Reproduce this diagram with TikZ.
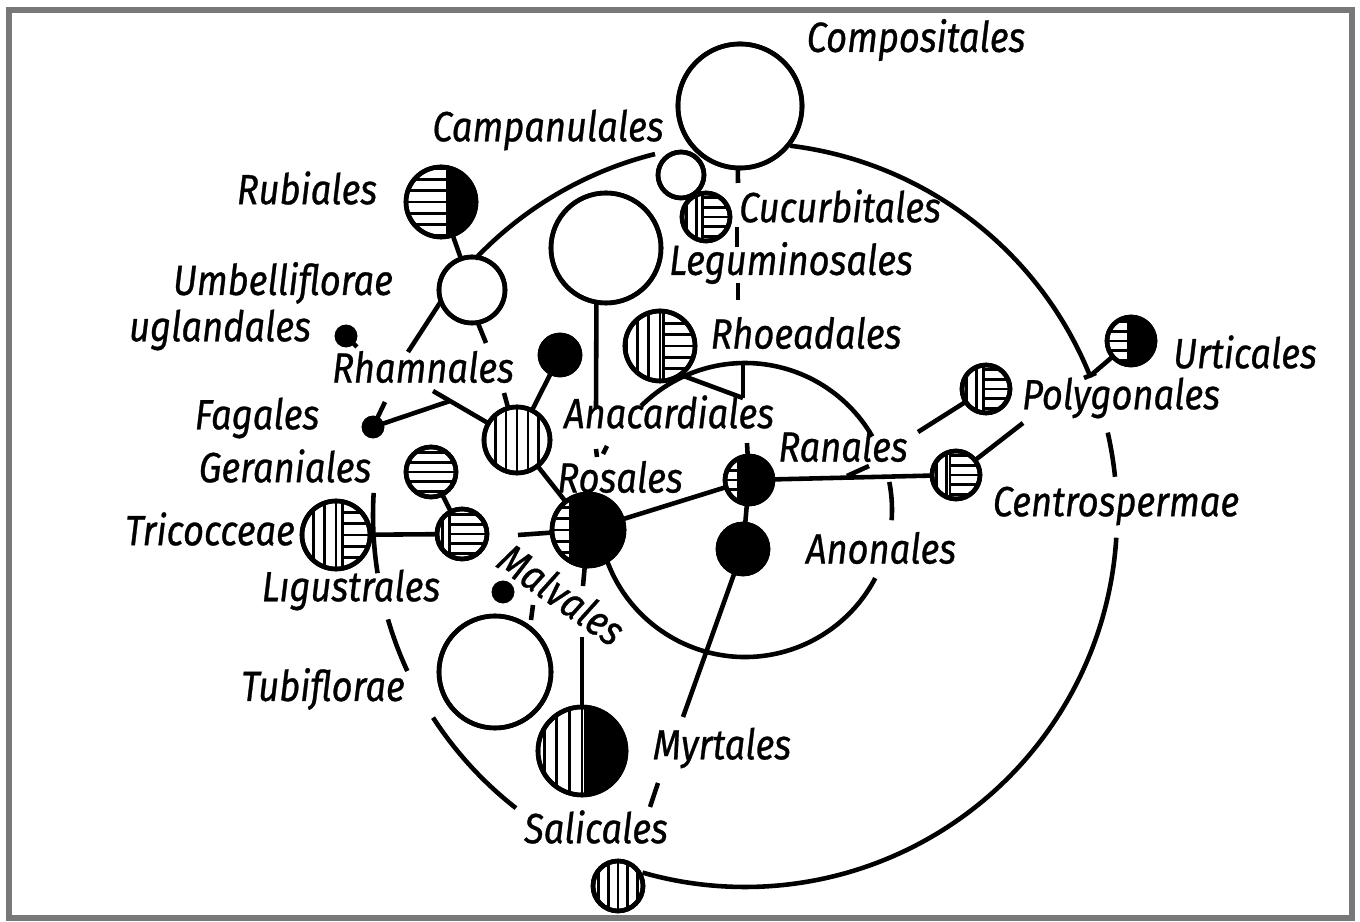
\documentclass[tikz,border=0pt]{standalone}
\usepackage{fontspec}
\setmainfont{Fira Sans}
\newfontfamily\ordfont{Fira Sans}[FakeStretch=0.86, FakeBold=0.7]
\usetikzlibrary{positioning}
\definecolor{rahmen}{rgb}{0.47,0.47,0.47}

\tikzset{
  disc/.style={circle, draw, fill=white, line width=1.3pt, inner sep=0pt, outer sep=0pt},
  lbl/.style={font=\ordfont\fontsize{12}{13}\selectfont\itshape, inner sep=0pt},
  hatch/.style={line width=0.8pt},
  link/.style={line width=1.3pt},
}

\newcommand{\partv}[3]{\foreach \k in {-8,...,8} \draw[hatch] ({#1+\k*(0.15*#3+6)},{#2-#3}) -- ++(0,{2*#3});}
\newcommand{\parth}[3]{\foreach \k in {-8,...,8} \draw[hatch] ({#1-#3},{#2+\k*(0.15*#3+6)}) -- ++({2*#3},0);}
\newcommand{\partb}[3]{\fill ({#1-#3},{#2-#3}) rectangle ({#1+#3},{#2+#3});}
\newcommand{\parto}[3]{}

% name, x, y, radius, split, left part, right part
\newcommand{\taxon}[7]{%
  \node[disc, minimum size={#4*0.02cm}] (#1) at (#2,#3) {};
  \begin{scope}
    \clip (#2,#3) circle (#4);
    \begin{scope}
      \clip ({#2-#4},{#3-#4}) rectangle ({#2+#5*#4},{#3+#4});
      \csname part#6\endcsname{#2}{#3}{#4}
    \end{scope}
    \begin{scope}
      \clip ({#2+#5*#4},{#3-#4}) rectangle ({#2+#4},{#3+#4});
      \csname part#7\endcsname{#2}{#3}{#4}
    \end{scope}
    \draw[hatch] ({#2+#5*#4},{#3-#4}) -- ++(0,{2*#4});
  \end{scope}
  \draw[line width=1.3pt] (#2,#3) circle (#4);
}

\begin{document}
\begin{tikzpicture}[x=0.01cm, y=-0.01cm]
\useasboundingbox (0,0) rectangle (1360,922);
\draw[rahmen, line width=1.6pt] (9,10) rectangle (1352,918);

\coordinate (outer) at (745,515);
\coordinate (inner) at (745,510);

% orders
\taxon{comp}{740}{106}{62}{1}{o}{o}
\taxon{camp}{681}{175}{23}{1}{o}{o}
\taxon{cuc}{706}{217}{24}{-0.15}{v}{h}
\taxon{leg}{606}{248}{55}{1}{o}{o}
\taxon{rub}{441}{202}{35}{0.17}{h}{b}
\taxon{umb}{472}{290}{33}{1}{o}{o}
\taxon{jug}{346}{336}{9}{1}{b}{b}
\taxon{rho}{660}{346}{35}{0.1}{v}{h}
\taxon{ana}{560}{355}{20}{1}{b}{b}
\taxon{rham}{517}{440}{33}{1}{v}{v}
\taxon{fag}{373}{427}{9}{1}{b}{b}
\taxon{ros}{588}{530}{36}{-0.5}{h}{b}
\taxon{ran}{749}{480}{24}{-0.45}{h}{b}
\taxon{anon}{743}{549}{25}{1}{b}{b}
\taxon{urt}{1131}{341}{24}{-0.1}{h}{b}
\taxon{pol}{986}{389}{24}{-0.1}{v}{h}
\taxon{cen}{956}{475}{24}{-0.25}{v}{h}
\taxon{ger}{431}{472}{25}{1}{h}{h}
\taxon{lig}{462}{534}{25}{-0.5}{v}{h}
\taxon{tri}{336}{535}{34}{0.18}{v}{h}
\taxon{mal}{503}{592}{9}{1}{b}{b}
\taxon{tub}{495}{672}{56}{1}{o}{o}
\taxon{myr}{582}{751}{44}{0.07}{v}{b}
\taxon{sal}{618}{886}{25}{1}{v}{v}

% outer ring
\draw[link] (outer) ++(-83:372) arc[start angle=-83, end angle=-22, radius=372];
\draw[link] (outer) ++(-12.8:372) arc[start angle=-12.8, end angle=-5.9, radius=372];
\draw[link] (outer) ++(3.5:372) arc[start angle=3.5, end angle=106, radius=372];
\draw[link] (outer) ++(-104:372) arc[start angle=-104, end angle=-136.5, radius=372];
\draw[link] (outer) ++(-176.6:372) arc[start angle=-176.6, end angle=-189, radius=372];
\draw[link] (outer) ++(-196.3:372) arc[start angle=-196.3, end angle=-204.8, radius=372];
\draw[link] (outer) ++(-213:372) arc[start angle=-213, end angle=-232, radius=372];

% inner ring
\draw[link] (inner) ++(-135:147) arc[start angle=-135, end angle=-30, radius=147];
\draw[link] (inner) ++(163:147) arc[start angle=163, end angle=27.6, radius=147];
\draw[link] (inner) ++(4:147) arc[start angle=4, end angle=-11, radius=147];

\coordinate (umbA) at (408,352);
\coordinate (umbB) at (486,343);
\coordinate (rhamA) at (433,391);
\coordinate (rhamB) at (504,393);
\coordinate (fagA) at (450,401);
\coordinate (fagB) at (385,402);
\coordinate (jugA) at (357,347);
\coordinate (ranA) at (747,443);
\coordinate (ranB) at (847,476);
\coordinate (ranC) at (869,466);
\coordinate (cenA) at (1023,423);
\coordinate (polA) at (918,432);
\coordinate (urtA) at (1090,376);
\coordinate (urtB) at (1084,378);
\coordinate (urtC) at (1096,373);
\coordinate (myrA) at (683,717);
\coordinate (myrB) at (658,783);
\coordinate (myrC) at (650,807);
\coordinate (rosA) at (583,586);
\coordinate (rosB) at (518,535);
\coordinate (malA) at (582,637);
\coordinate (legA) at (596,408);
\coordinate (rhoA) at (743,398);
\coordinate (rhoB) at (743,364);
\coordinate (tubA) at (533,605);
\coordinate (tubB) at (531,620);

\draw[link] (rub) -- (umb);
\draw[link] (umb.200) -- (umbA);
\draw[link] (umb.280) -- (umbB);
\draw[link] (ana) -- (rham);
\draw[link] (rham) -- (ros);
\draw[link] (rhamA) -- (rham);
\draw[link] (rham) -- (rhamB);
\draw[link] (fag) -- (fagA);
\draw[link] (fag) -- (fagB);
\draw[link] (jug) -- (jugA);
\draw[link] (ros) -- (ran);
\draw[link] (ran) -- (anon);
\draw[link] (ran) -- (cen);
\draw[link] (ran) -- (ranA);
\draw[link] (ranB) -- (ranC);
\draw[link] (cen) -- (cenA);
\draw[link] (pol) -- (polA);
\draw[link] (urt) -- (urtA);
\draw[link] (urtB) -- (urtC);
\draw[link] (anon) -- (myrA);
\draw[link] (myrB) -- (myrC);
\draw[link] (ros) -- (rosA);
\draw[link] (rosB) -- (ros);
\draw[link] (malA) -- (myr);
\draw[link] (tri) -- (lig);
\draw[link] (ger) -- (lig);
\draw[link] (leg.260) -- (legA);
\draw[link] (rho.305) -- (rhoA);
\draw[link] (rhoB) -- (rhoA);
\draw[link] (tubA) -- (tubB);
\draw[link] (comp.268) -- (738,183);
\draw[link] (737,227) -- (737,247);
\draw[link] (738,283) -- (738,300);
\draw[link] (596,449) -- (597,457);
\draw[link] (607,446) -- (603,454);

% names
\node[lbl] (lcomp) at (916,40) {Compositales};
\node[lbl] (lcamp) at (548,130) {Campanulales};
\node[lbl] (lrub) at (307,188) {Rubiales};
\node[lbl] (lcuc) at (840,206) {Cucurbitales};
\node[lbl] (lumb) at (283,283) {Umbelliflorae};
\node[lbl] (lleg) at (791,263) {Leguminosales};
\node[lbl] (ljug) at (220,330) {uglandales};
\node[lbl] (lrho) at (806,333) {Rhoeadales};
\node[lbl] (lrham) at (423,367) {Rhamnales};
\node[lbl] (lurt) at (1245,352) {Urticales};
\node[lbl] (lpol) at (1121,398) {Polygonales};
\node[lbl] (lfag) at (257,418) {Fagales};
\node[lbl] (lana) at (669,412) {Anacardiales};
\node[lbl] (lran) at (843,446) {Ranales};
\node[lbl] (lger) at (285,466) {Geraniales};
\node[lbl] (lros) at (620,477) {Rosales};
\node[lbl] (lcen) at (1116,506) {Centrospermae};
\node[lbl] (ltri) at (210,529) {Tricocceae};
\node[lbl] (lanon) at (881,548) {Anonales};
\node[lbl] (llig) at (351,590) {Lıgustrales};
\node[lbl, rotate=-35] (lmal) at (562,594) {Malvales};
\node[lbl] (ltub) at (323,689) {Tubiflorae};
\node[lbl] (lmyr) at (722,748) {Myrtales};
\node[lbl] (lsal) at (596,827) {Salicales};
\end{tikzpicture}
\end{document}
